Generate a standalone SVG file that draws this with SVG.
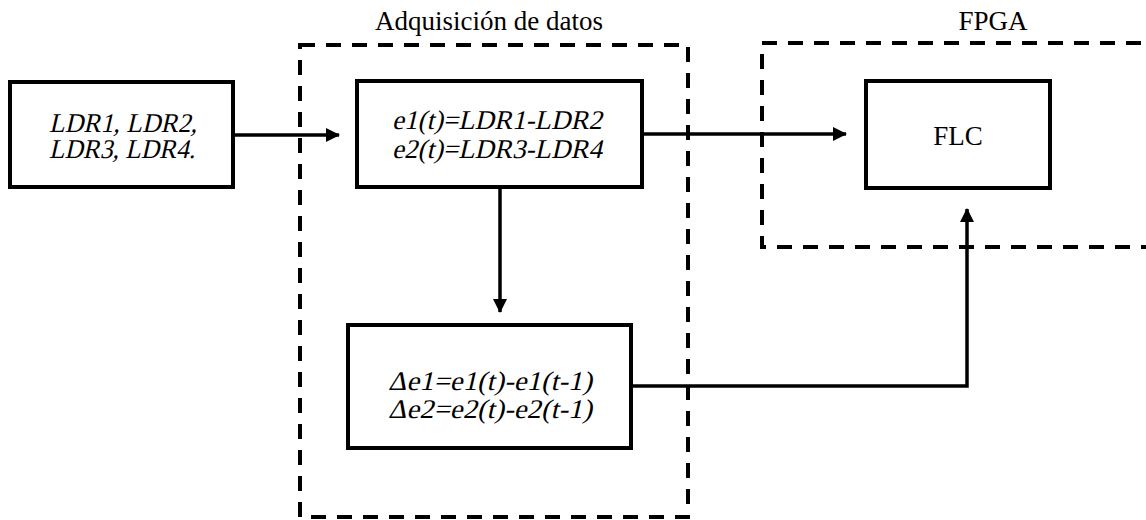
<svg xmlns="http://www.w3.org/2000/svg" width="1146" height="520" viewBox="0 0 1146 520">
  <defs>
    <style>
      .box { fill: #fff; stroke: #000; stroke-width: 4; }
      .group { fill: none; stroke: #000; stroke-width: 4; stroke-dasharray: 15 11; }
      .wire { fill: none; stroke: #000; stroke-width: 3.5; }
      .lbl { font-family: "Liberation Serif", "Times New Roman", serif; font-size: 27px; fill: #000; text-anchor: middle; }
    </style>
    <marker id="arrow" viewBox="0 0 14 14" refX="13" refY="7" markerWidth="14" markerHeight="14" markerUnits="userSpaceOnUse" orient="auto">
      <path d="M0,0 L14,7 L0,14 Z" fill="#000"/>
    </marker>
  </defs>

  <!-- grouping frames -->
  <g id="acquisition">
    <rect class="group" x="300" y="45" width="388" height="472"/>
    <text class="lbl" x="489" y="30">Adquisición de datos</text>
  </g>
  <g id="fpga">
    <rect class="group" x="762" y="43" width="420" height="204"/>
    <text class="lbl" x="993" y="30">FPGA</text>
  </g>

  <!-- connectors -->
  <g id="connectors">
    <path class="wire" d="M233,135 H339" marker-end="url(#arrow)"/>
    <path class="wire" d="M642,134 H846" marker-end="url(#arrow)"/>
    <path class="wire" d="M500,187 V312" marker-end="url(#arrow)"/>
    <path class="wire" d="M631,386 H967 V209" marker-end="url(#arrow)"/>
  </g>

  <!-- blocks; slanted labels use a skew so the serif face stays in use -->
  <g id="sensors">
    <rect class="box" x="10" y="82" width="223" height="105"/>
    <text class="lbl" transform="translate(123,132) skewX(-13)" textLength="148" lengthAdjust="spacingAndGlyphs">LDR1, LDR2,</text>
    <text class="lbl" transform="translate(122,158) skewX(-13)" textLength="146" lengthAdjust="spacingAndGlyphs">LDR3, LDR4.</text>
  </g>
  <g id="error">
    <rect class="box" x="357" y="81" width="285" height="106"/>
    <text class="lbl" transform="translate(497,129) skewX(-13)" textLength="210" lengthAdjust="spacingAndGlyphs">e1(t)=LDR1-LDR2</text>
    <text class="lbl" transform="translate(497,158) skewX(-13)" textLength="210" lengthAdjust="spacingAndGlyphs">e2(t)=LDR3-LDR4</text>
  </g>
  <g id="delta">
    <rect class="box" x="348" y="325" width="283" height="123"/>
    <text class="lbl" transform="translate(490,390) skewX(-13)" font-size="26" textLength="204" lengthAdjust="spacingAndGlyphs">Δe1=e1(t)-e1(t-1)</text>
    <text class="lbl" transform="translate(490,418) skewX(-13)" font-size="26" textLength="204" lengthAdjust="spacingAndGlyphs">Δe2=e2(t)-e2(t-1)</text>
  </g>
  <g id="flc">
    <rect class="box" x="866" y="81" width="184" height="107"/>
    <text class="lbl" x="958" y="145">FLC</text>
  </g>
</svg>
